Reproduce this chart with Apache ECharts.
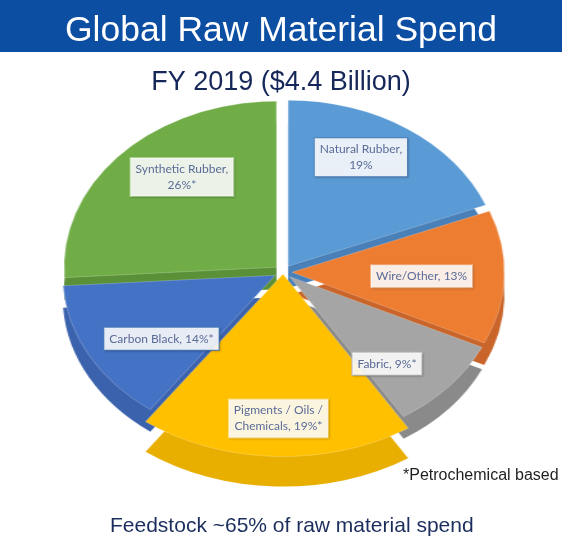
<!DOCTYPE html>
<html><head><meta charset="utf-8">
<script src="https://cdn.jsdelivr.net/npm/echarts@6/dist/echarts.min.js"></script>
<style>
html,body{margin:0;padding:0;background:#fff;overflow:hidden;width:562px;height:541px}
#pie{position:absolute;left:0;top:0;width:562px;height:541px;transform-origin:283px 0;transform:scaleX(1.28)}
#txt{position:absolute;left:0;top:0;width:562px;height:541px}
</style>
</head><body><div id="pie"></div><div id="txt"></div>
<script>
// ---- data ----
const categories = ['Natural Rubber', 'Wire/Other', 'Fabric', 'Pigments / Oils /\nChemicals', 'Carbon Black', 'Synthetic Rubber'];
const shares = [19, 13, 9, 19, 14, 26];
const petrochemical = [false, false, true, true, true, true];
const breakBeforeValue = [true, false, false, false, false, true];
const topColors = ['#5b9bd5', '#ed7d31', '#a5a5a5', '#ffc000', '#4472c4', '#70ad47'];
const sideColors = ['#4a80b8', '#c9652a', '#8a8a8a', '#e8ae00', '#3a62ad', '#5a9038'];
const labelBorders = ['#4f81bd', '#f4b183', '#bfbfbf', '#ffd966', '#4f81bd', '#a9d18e'];
const explodedIndex = 3;

// ---- layout ----
const CX = 283, CY = 272, R = 166, STRETCH = 1.28;
const DEPTH_MAIN = 22, DEPTH_PIG = 30;
const OFF_MAIN = 7, OFF_PIG = 2, PIG_SCALE = 1.1;

function pieLayer(opts) {
  const rr = opts.scale ? R * opts.scale : R;
  return {
    type: 'pie',
    z: opts.z,
    center: [CX, opts.cy],
    radius: opts.labelBand ? [rr * 0.55, rr] : [0, rr],
    startAngle: 90,
    clockwise: true,
    selectedMode: 'multiple',
    selectedOffset: opts.off,
    animation: false,
    silent: true,
    avoidLabelOverlap: false,
    emphasis: { disabled: true },
    labelLine: { show: false },
    label: opts.label || { show: false },
    labelLayout: opts.labelLayout,
    data: categories.map((name, i) => {
      const on = opts.include(i);
      return {
        name: name,
        value: shares[i],
        selected: true,
        itemStyle: on && opts.colors ? {
          color: opts.colors[i],
          borderColor: 'rgba(255,255,255,0.22)',
          borderWidth: opts.borderWidth == null ? 1 : opts.borderWidth
        } : { color: 'rgba(0,0,0,0)', borderWidth: 0 },
        label: on && opts.label ? { show: true, borderColor: labelBorders[i] } : { show: false }
      };
    })
  };
}

const isMain = i => i !== explodedIndex;
const isPig = i => i === explodedIndex;

// slices (stretched horizontally into an ellipse, like the tilted 3D pie)
const pieChart = echarts.init(document.getElementById('pie'), null, { renderer: 'canvas' });
pieChart.setOption({
  backgroundColor: 'transparent',
  series: [
    pieLayer({ z: 1, cy: CY + DEPTH_MAIN, off: OFF_MAIN, include: isMain, colors: sideColors, borderWidth: 0 }),
    pieLayer({ z: 2, cy: CY, off: OFF_MAIN, include: isMain, colors: topColors }),
    pieLayer({ z: 3, cy: CY + DEPTH_PIG, off: OFF_PIG, scale: PIG_SCALE, include: isPig, colors: sideColors, borderWidth: 0 }),
    pieLayer({ z: 4, cy: CY, off: OFF_PIG, scale: PIG_SCALE, include: isPig, colors: topColors })
  ]
});

// texts and data labels (unstretched; label x moved out onto the ellipse)
const labelStyle = {
  show: true,
  position: 'inside',
  formatter: p => {
    const i = p.dataIndex;
    return categories[i] + ',' + (breakBeforeValue[i] ? '\n' : ' ') + shares[i] + '%' + (petrochemical[i] ? '*' : '');
  },
  color: '#5a6b98',
  fontFamily: 'Lato, "Open Sans", sans-serif',
  fontSize: 12,
  lineHeight: 16,
  align: 'center',
  backgroundColor: 'rgba(255,255,255,0.88)',
  borderWidth: 1,
  padding: [3, 5, 3, 5],
  shadowColor: 'rgba(0,0,0,0.15)',
  shadowBlur: 2,
  shadowOffsetX: 1,
  shadowOffsetY: 1
};
const stretchLabel = p => {
  const r = p.labelRect;
  return { x: CX + STRETCH * (r.x + r.width / 2 - CX), y: r.y + r.height / 2 };
};

const font = '"Liberation Sans", Arial, sans-serif';
const txtChart = echarts.init(document.getElementById('txt'), null, { renderer: 'canvas' });
txtChart.setOption({
  backgroundColor: 'transparent',
  graphic: [{
    type: 'rect', z: 0,
    shape: { x: 0, y: 0, width: 562, height: 52 },
    style: { fill: '#0b4ea2' }
  }],
  title: [
    { text: 'Global Raw Material Spend', left: 'center', top: 8,
      textStyle: { color: '#ffffff', fontSize: 35.5, fontWeight: 'normal', fontFamily: font } },
    { text: 'FY 2019 ($4.4 Billion)', left: 'center', top: 64,
      textStyle: { color: '#16275a', fontSize: 27, fontWeight: 'normal', fontFamily: font } },
    { text: '*Petrochemical based', left: 398, top: 463,
      textStyle: { color: '#1f1f1f', fontSize: 16, fontWeight: 'normal', fontFamily: font } },
    { text: 'Feedstock ~65% of raw material spend', left: 105, top: 511,
      textStyle: { color: '#1a2d5c', fontSize: 21, fontWeight: 'normal', fontFamily: font } }
  ],
  series: [
    pieLayer({ z: 5, cy: CY, off: OFF_MAIN, include: isMain, labelBand: true, label: labelStyle, labelLayout: stretchLabel }),
    pieLayer({ z: 6, cy: CY, off: OFF_PIG, scale: PIG_SCALE, include: isPig, labelBand: true, label: labelStyle, labelLayout: stretchLabel })
  ]
});
</script>
</body></html>
